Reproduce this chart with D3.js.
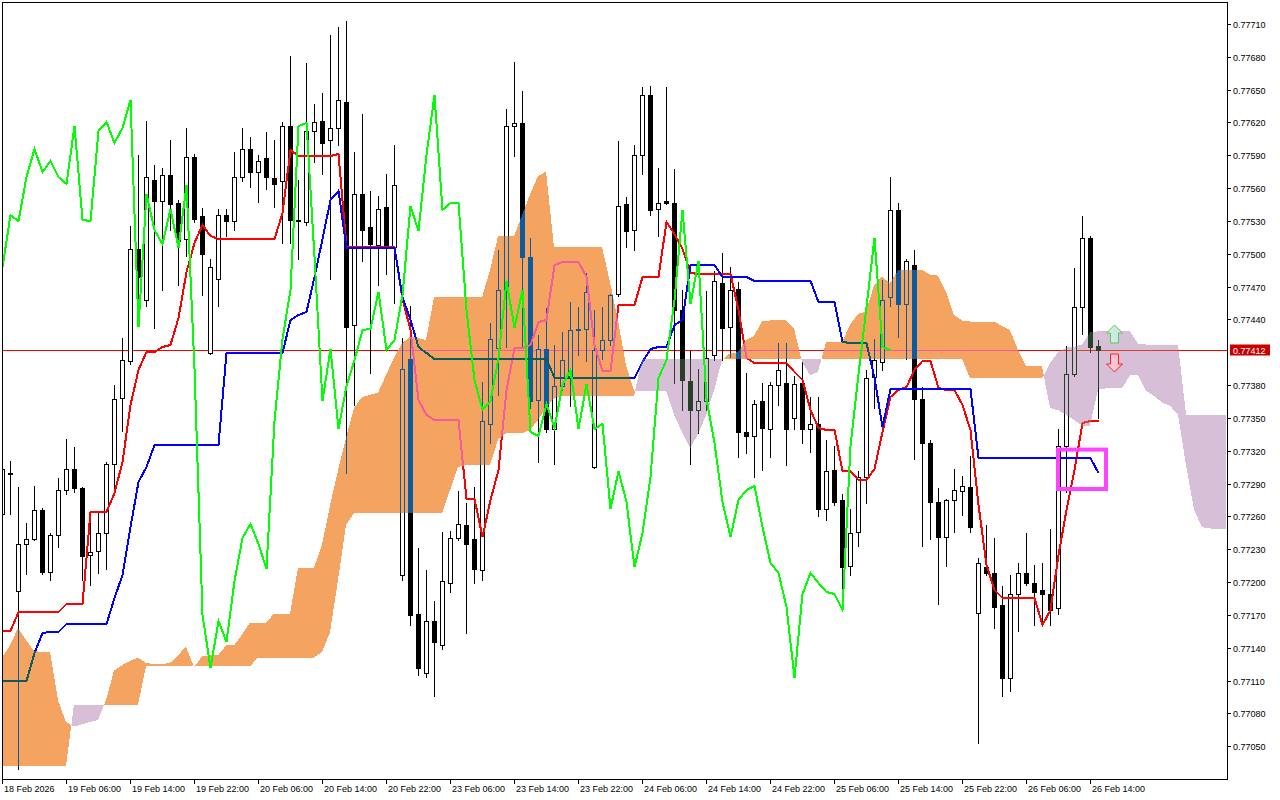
<!DOCTYPE html>
<html><head><meta charset="utf-8">
<script src="https://cdn.jsdelivr.net/npm/d3@7"></script>
<style>
html,body{margin:0;padding:0;background:#fff;}
svg{display:block;}
text{font-family:"Liberation Sans",Arial,sans-serif;font-size:9px;}
</style></head><body>
<svg id="chart" width="1280" height="800"></svg>
<script>
// ---- DATA (H1 candles, Ichimoku 9/26/52) ----
const opens = [
0.77262,0.77300,0.77192,0.77235,0.77239,0.77266,0.77209,0.77243,0.77284,0.77303,
0.77286,0.77225,0.77228,0.77245,0.77308,0.77368,0.77402,0.77504,0.77458,0.77567,
0.77548,0.77572,0.77546,0.77513,0.77588,0.77534,0.77409,0.77477,0.77535,0.77530,
0.77570,0.77596,0.77575,0.77587,0.77569,0.77566,0.77617,0.77531,0.77529,0.77612,
0.77621,0.77604,0.77615,0.77639,0.77435,0.77555,0.77524,0.77508,0.77543,0.77506,
0.77206,0.77404,0.77171,0.77117,0.77164,0.77142,0.77199,0.77240,0.77252,0.77239,
0.77211,0.77344,0.77414,0.77467,0.77617,0.77619,0.77497,0.77366,0.77413,0.77340,
0.77379,0.77388,0.77430,0.77431,0.77305,0.77412,0.77421,0.77463,0.77545,0.77522,
0.77590,0.77645,0.77541,0.77548,0.77546,0.77449,0.77384,0.77357,0.77365,0.77407,
0.77473,0.77433,0.77468,0.77337,0.77333,0.77365,0.77340,0.77380,0.77382,0.77350,
0.77382,0.77340,0.77344,0.77267,0.77302,0.77275,0.77215,0.77246,0.77296,0.77387,
0.77401,0.77460,0.77540,0.77454,0.77490,0.77367,0.77327,0.77273,0.77241,0.77275,
0.77283,0.77287,0.77172,0.77214,0.77208,0.77179,0.77112,0.77189,0.77208,0.77199,
0.77193,0.77189,0.77176,0.77324,0.77390,0.77451,0.77514,0.77416];
const highs = [
0.77310,0.77311,0.77287,0.77254,0.77288,0.77268,0.77245,0.77295,0.77331,0.77323,
0.77287,0.77254,0.77263,0.77310,0.77380,0.77423,0.77525,0.77590,0.77621,0.77581,
0.77578,0.77604,0.77549,0.77615,0.77591,0.77542,0.77495,0.77541,0.77541,0.77593,
0.77615,0.77607,0.77590,0.77611,0.77604,0.77620,0.77681,0.77567,0.77674,0.77637,
0.77647,0.77700,0.77707,0.77713,0.77593,0.77628,0.77557,0.77553,0.77573,0.77599,
0.77423,0.77452,0.77231,0.77211,0.77183,0.77246,0.77247,0.77283,0.77272,0.77287,
0.77383,0.77437,0.77503,0.77632,0.77675,0.77649,0.77514,0.77426,0.77450,0.77417,
0.77428,0.77456,0.77451,0.77482,0.77449,0.77451,0.77463,0.77603,0.77552,0.77599,
0.77652,0.77653,0.77578,0.77652,0.77577,0.77467,0.77411,0.77395,0.77466,0.77484,
0.77501,0.77488,0.77474,0.77391,0.77366,0.77382,0.77383,0.77418,0.77418,0.77388,
0.77401,0.77369,0.77369,0.77330,0.77324,0.77280,0.77267,0.77301,0.77394,0.77422,
0.77476,0.77570,0.77546,0.77495,0.77503,0.77378,0.77330,0.77286,0.77276,0.77303,
0.77297,0.77315,0.77222,0.77252,0.77240,0.77196,0.77206,0.77217,0.77245,0.77216,
0.77217,0.77248,0.77340,0.77416,0.77487,0.77534,0.77516,0.77421];
const lows = [
0.77258,0.77262,0.77029,0.77207,0.77238,0.77207,0.77202,0.77232,0.77280,0.77282,
0.77202,0.77197,0.77208,0.77212,0.77281,0.77338,0.77399,0.77456,0.77452,0.77432,
0.77467,0.77522,0.77471,0.77498,0.77529,0.77462,0.77408,0.77452,0.77516,0.77522,
0.77566,0.77561,0.77547,0.77559,0.77543,0.77510,0.77510,0.77495,0.77526,0.77584,
0.77573,0.77477,0.77599,0.77300,0.77362,0.77493,0.77391,0.77471,0.77481,0.77455,
0.77202,0.77161,0.77115,0.77113,0.77096,0.77139,0.77191,0.77238,0.77153,0.77199,
0.77202,0.77327,0.77371,0.77415,0.77589,0.77415,0.77359,0.77310,0.77337,0.77308,
0.77375,0.77361,0.77407,0.77402,0.77304,0.77404,0.77417,0.77461,0.77506,0.77503,
0.77573,0.77535,0.77516,0.77545,0.77382,0.77357,0.77308,0.77336,0.77357,0.77403,
0.77403,0.77406,0.77314,0.77318,0.77296,0.77302,0.77314,0.77362,0.77307,0.77340,
0.77327,0.77319,0.77260,0.77257,0.77270,0.77193,0.77206,0.77233,0.77272,0.77359,
0.77394,0.77452,0.77424,0.77404,0.77312,0.77233,0.77239,0.77180,0.77215,0.77246,
0.77261,0.77246,0.77053,0.77206,0.77158,0.77096,0.77100,0.77155,0.77197,0.77161,
0.77161,0.77161,0.77171,0.77282,0.77388,0.77427,0.77410,0.77350];
const closes = [
0.77303,0.77299,0.77235,0.77239,0.77266,0.77209,0.77243,0.77284,0.77303,0.77286,
0.77224,0.77227,0.77245,0.77308,0.77367,0.77403,0.77504,0.77479,0.77570,0.77548,
0.77572,0.77545,0.77512,0.77588,0.77532,0.77500,0.77488,0.77535,0.77530,0.77570,
0.77596,0.77575,0.77585,0.77570,0.77564,0.77617,0.77531,0.77530,0.77612,0.77620,
0.77601,0.77615,0.77640,0.77433,0.77555,0.77522,0.77509,0.77541,0.77505,0.77563,
0.77395,0.77170,0.77121,0.77164,0.77145,0.77201,0.77240,0.77253,0.77235,0.77212,
0.77347,0.77422,0.77467,0.77617,0.77619,0.77497,0.77365,0.77413,0.77340,0.77379,
0.77403,0.77430,0.77431,0.77465,0.77412,0.77421,0.77462,0.77544,0.77521,0.77590,
0.77645,0.77540,0.77546,0.77546,0.77449,0.77385,0.77357,0.77365,0.77405,0.77475,
0.77432,0.77467,0.77337,0.77333,0.77363,0.77341,0.77380,0.77394,0.77340,0.77381,
0.77340,0.77344,0.77267,0.77301,0.77273,0.77214,0.77245,0.77296,0.77386,0.77403,
0.77458,0.77540,0.77454,0.77493,0.77367,0.77327,0.77273,0.77241,0.77275,0.77284,
0.77288,0.77250,0.77217,0.77208,0.77177,0.77112,0.77189,0.77208,0.77199,0.77191,
0.77189,0.77174,0.77324,0.77390,0.77451,0.77514,0.77415,0.77412];
const tenkan = [
0.77155,0.77155,0.77173,0.77173,0.77173,0.77173,0.77173,0.77173,0.77180,0.77180,
0.77180,0.77264,0.77264,0.77264,0.77281,0.77310,0.77362,0.77394,0.77410,0.77410,
0.77415,0.77417,0.77441,0.77483,0.77510,0.77526,0.77516,0.77513,0.77513,0.77513,
0.77513,0.77513,0.77513,0.77513,0.77513,0.77537,0.77595,0.77589,0.77589,0.77589,
0.77589,0.77589,0.77591,0.77506,0.77506,0.77506,0.77506,0.77506,0.77506,0.77506,
0.77459,0.77430,0.77366,0.77353,0.77348,0.77348,0.77348,0.77348,0.77276,0.77276,
0.77241,0.77275,0.77302,0.77375,0.77414,0.77414,0.77417,0.77438,0.77439,0.77490,
0.77492,0.77492,0.77492,0.77479,0.77417,0.77393,0.77393,0.77453,0.77453,0.77453,
0.77479,0.77479,0.77479,0.77529,0.77518,0.77504,0.77482,0.77481,0.77481,0.77481,
0.77481,0.77481,0.77449,0.77405,0.77400,0.77400,0.77400,0.77400,0.77400,0.77392,
0.77385,0.77357,0.77341,0.77339,0.77339,0.77301,0.77301,0.77293,0.77293,0.77303,
0.77337,0.77369,0.77375,0.77378,0.77394,0.77402,0.77402,0.77377,0.77375,0.77375,
0.77362,0.77339,0.77270,0.77216,0.77193,0.77185,0.77185,0.77185,0.77185,0.77185,
0.77161,0.77174,0.77225,0.77266,0.77302,0.77345,0.77347,0.77347];
const kijun = [
0.77110,0.77110,0.77110,0.77110,0.77135,0.77153,0.77154,0.77154,0.77162,0.77162,
0.77162,0.77162,0.77162,0.77162,0.77185,0.77206,0.77250,0.77291,0.77305,0.77325,
0.77325,0.77325,0.77325,0.77325,0.77325,0.77325,0.77325,0.77325,0.77409,0.77409,
0.77409,0.77409,0.77409,0.77409,0.77409,0.77409,0.77439,0.77444,0.77447,0.77479,
0.77513,0.77549,0.77557,0.77505,0.77505,0.77505,0.77505,0.77505,0.77505,0.77505,
0.77460,0.77439,0.77415,0.77409,0.77404,0.77404,0.77404,0.77404,0.77404,0.77404,
0.77404,0.77404,0.77404,0.77404,0.77404,0.77404,0.77404,0.77404,0.77404,0.77386,
0.77386,0.77386,0.77386,0.77386,0.77386,0.77386,0.77386,0.77386,0.77386,0.77386,
0.77401,0.77413,0.77415,0.77415,0.77435,0.77439,0.77490,0.77490,0.77490,0.77490,
0.77479,0.77479,0.77479,0.77479,0.77475,0.77475,0.77475,0.77475,0.77475,0.77475,
0.77475,0.77475,0.77456,0.77456,0.77456,0.77419,0.77418,0.77418,0.77418,0.77386,
0.77342,0.77376,0.77376,0.77376,0.77376,0.77376,0.77376,0.77376,0.77376,0.77376,
0.77376,0.77376,0.77313,0.77313,0.77313,0.77313,0.77313,0.77313,0.77313,0.77313,
0.77313,0.77313,0.77313,0.77313,0.77313,0.77313,0.77313,0.77300];
const spanA = [
0.77131,0.77142,0.77158,0.77147,0.77137,0.77136,0.77136,0.77092,0.77072,0.77068,
0.77070,0.77072,0.77074,0.77092,0.77119,0.77124,0.77128,0.77131,0.77126,0.77125,
0.77125,0.77126,0.77133,0.77141,0.77122,0.77132,0.77133,0.77133,0.77142,0.77142,
0.77152,0.77163,0.77163,0.77163,0.77171,0.77171,0.77171,0.77213,0.77213,0.77213,
0.77234,0.77270,0.77302,0.77332,0.77359,0.77369,0.77371,0.77373,0.77389,0.77405,
0.77418,0.77424,0.77423,0.77421,0.77460,0.77460,0.77460,0.77460,0.77460,0.77460,
0.77460,0.77485,0.77516,0.77516,0.77516,0.77535,0.77554,0.77571,0.77575,0.77506,
0.77506,0.77506,0.77506,0.77506,0.77506,0.77506,0.77474,0.77439,0.77398,0.77375,
0.77375,0.77375,0.77375,0.77375,0.77353,0.77337,0.77322,0.77335,0.77352,0.77375,
0.77403,0.77409,0.77410,0.77421,0.77425,0.77438,0.77439,0.77439,0.77439,0.77432,
0.77401,0.77389,0.77392,0.77419,0.77419,0.77419,0.77435,0.77445,0.77447,0.77471,
0.77479,0.77473,0.77485,0.77485,0.77485,0.77485,0.77481,0.77480,0.77465,0.77444,
0.77439,0.77438,0.77438,0.77438,0.77438,0.77434,0.77430,0.77412,0.77397,0.77397,
0.77397,0.77359,0.77357,0.77353,0.77348,0.77343,0.77343,0.77376,0.77377,0.77377,
0.77377,0.77389,0.77389,0.77375,0.77370,0.77364,0.77361,0.77353,0.77307,0.77266,
0.77250,0.77249,0.77248,0.77248];
const spanB = [
0.77032,0.77032,0.77032,0.77032,0.77032,0.77032,0.77032,0.77032,0.77032,0.77088,
0.77088,0.77088,0.77088,0.77088,0.77088,0.77088,0.77088,0.77088,0.77123,0.77123,
0.77123,0.77123,0.77123,0.77123,0.77123,0.77123,0.77123,0.77123,0.77123,0.77123,
0.77123,0.77123,0.77131,0.77131,0.77131,0.77131,0.77131,0.77131,0.77131,0.77131,
0.77136,0.77154,0.77202,0.77252,0.77263,0.77263,0.77263,0.77263,0.77263,0.77263,
0.77263,0.77263,0.77263,0.77263,0.77263,0.77263,0.77284,0.77305,0.77307,0.77307,
0.77307,0.77307,0.77330,0.77336,0.77336,0.77336,0.77339,0.77348,0.77359,0.77368,
0.77370,0.77370,0.77370,0.77370,0.77370,0.77370,0.77370,0.77370,0.77370,0.77370,
0.77404,0.77404,0.77404,0.77404,0.77404,0.77404,0.77404,0.77404,0.77404,0.77404,
0.77404,0.77404,0.77404,0.77404,0.77404,0.77404,0.77404,0.77404,0.77404,0.77404,
0.77404,0.77404,0.77404,0.77404,0.77404,0.77404,0.77404,0.77404,0.77404,0.77404,
0.77404,0.77404,0.77404,0.77404,0.77404,0.77404,0.77404,0.77404,0.77404,0.77404,
0.77404,0.77386,0.77386,0.77386,0.77386,0.77386,0.77386,0.77386,0.77386,0.77386,
0.77386,0.77400,0.77410,0.77414,0.77415,0.77417,0.77428,0.77429,0.77429,0.77429,
0.77429,0.77429,0.77418,0.77417,0.77417,0.77417,0.77417,0.77417,0.77353,0.77353,
0.77353,0.77353,0.77353,0.77353];
const chikouShift = 26;
const lastPrice = 0.77412;
const priceTicks = [0.77050,0.77080,0.77110,0.77140,0.77170,0.77200,0.77230,0.77260,0.77290,0.77320,
  0.77350,0.77380,0.77440,0.77470,0.77500,0.77530,0.77560,0.77590,0.77620,0.77650,0.77680,0.77710];
const timeTickIndex = [0,8,16,24,32,40,48,56,64,72,80,88,96,104,112,120,128,136];
const timeLabels = ["18 Feb 2026","19 Feb 06:00","19 Feb 14:00","19 Feb 22:00","20 Feb 06:00","20 Feb 14:00",
  "20 Feb 22:00","23 Feb 06:00","23 Feb 14:00","23 Feb 22:00","24 Feb 06:00","24 Feb 14:00",
  "24 Feb 22:00","25 Feb 06:00","25 Feb 14:00","25 Feb 22:00","26 Feb 06:00","26 Feb 14:00"];
const selectionBox = {from: 132, to: 138, top: 0.77321, bottom: 0.77285};
const signalBar = 139;

// ---- SCALES ----
const L = 2, R = 1227, T = 2, B = 779;
const x = d3.scaleLinear().domain([0, 153]).range([2, 1226]);
const y = d3.scaleLinear().domain([0.77020, 0.77730]).range([779, 2]);

const svg = d3.select('#chart');
svg.append('rect').attr('width',1280).attr('height',800).attr('fill','#fff');
const defs = svg.append('defs');
defs.append('clipPath').attr('id','plotClip').append('rect')
  .attr('x', L+1).attr('y', T+1).attr('width', R-L-1).attr('height', B-T-1);
const gu = defs.append('linearGradient').attr('id','gUp').attr('x1',0).attr('x2',1).attr('y1',0).attr('y2',0);
gu.append('stop').attr('offset','0').attr('stop-color','#d8f4d8');
gu.append('stop').attr('offset','1').attr('stop-color','#c8dcf0');
const gd = defs.append('linearGradient').attr('id','gDn').attr('x1',0).attr('x2',1).attr('y1',0).attr('y2',0);
gd.append('stop').attr('offset','0').attr('stop-color','#ffd8e4');
gd.append('stop').attr('offset','1').attr('stop-color','#f4b0c4');

const plot = svg.append('g').attr('clip-path','url(#plotClip)');
// white backdrop inside the (isolated) clipped group so the blend works
plot.append('rect').attr('x',0).attr('y',0).attr('width',1280).attr('height',800).attr('fill','#fff');

// bid line
const py = Math.round(y(lastPrice)) + 0.5;
plot.append('line').attr('x1',L).attr('x2',R).attr('y1',py).attr('y2',py)
  .attr('stroke','#ff0000').attr('stroke-width',1).attr('shape-rendering','crispEdges');

// candles
const candles = d3.range(opens.length).map(i => ({i, o:opens[i], h:highs[i], l:lows[i], c:closes[i]}));
plot.append('g').selectAll('line').data(candles).join('line')
  .attr('x1', d => x(d.i)+0.5).attr('x2', d => x(d.i)+0.5)
  .attr('y1', d => Math.round(y(d.h))).attr('y2', d => Math.round(y(d.l))+1)
  .attr('stroke','#000').attr('stroke-width',1).attr('shape-rendering','crispEdges');
plot.append('g').selectAll('rect').data(candles).join('rect')
  .attr('x', d => x(d.i)-1.5).attr('width', 4)
  .attr('y', d => Math.round(y(Math.max(d.o,d.c)))+0.5)
  .attr('height', d => Math.max(1, Math.round(y(Math.min(d.o,d.c))) - Math.round(y(Math.max(d.o,d.c)))))
  .attr('fill', d => d.c >= d.o ? '#fff' : '#000')
  .attr('stroke','#000').attr('stroke-width',1).attr('shape-rendering','crispEdges');

// tenkan & kijun (aliased, like the terminal draws them)
const lineGen = arr => d3.line().x((d,i) => x(i) + 0.5).y(d => Math.round(y(d)))(arr);
plot.append('path').attr('d', lineGen(tenkan)).attr('fill','none').attr('stroke','#ff0000')
  .attr('stroke-width',2).attr('shape-rendering','crispEdges');
plot.append('path').attr('d', lineGen(kijun)).attr('fill','none').attr('stroke','#0000ff')
  .attr('stroke-width',2).attr('shape-rendering','crispEdges');

// cloud with crossing points
const pts = [];
for (let i = 0; i < spanA.length; i++) {
  pts.push({t:i, a:spanA[i], b:spanB[i]});
  if (i < spanA.length-1) {
    const d0 = spanA[i]-spanB[i], d1 = spanA[i+1]-spanB[i+1];
    if (d0*d1 < 0) {
      const f = d0/(d0-d1);
      const v = spanA[i] + f*(spanA[i+1]-spanA[i]);
      pts.push({t:i+f, a:v, b:v});
    }
  }
}
const upArea = d3.area().x(d => x(d.t)).y0(d => y(d.b)).y1(d => y(Math.max(d.a,d.b)));
const dnArea = d3.area().x(d => x(d.t)).y0(d => y(d.a)).y1(d => y(Math.max(d.a,d.b)));
// inverse colours + difference blend reproduce the XOR-like fill (sandybrown / thistle on white)
plot.append('path').attr('d', upArea(pts)).attr('fill','rgb(11,91,159)')
  .attr('shape-rendering','crispEdges').style('mix-blend-mode','difference');
plot.append('path').attr('d', dnArea(pts)).attr('fill','rgb(39,64,39)')
  .attr('shape-rendering','crispEdges').style('mix-blend-mode','difference');

// chikou
const chikou = closes.slice(chikouShift);
plot.append('path').attr('d', lineGen(chikou)).attr('fill','none').attr('stroke','#00ff00')
  .attr('stroke-width',2).attr('shape-rendering','crispEdges');

// frame
svg.append('rect').attr('x',L+0.5).attr('y',T+0.5).attr('width',R-L).attr('height',B-T)
  .attr('fill','none').attr('stroke','#000').attr('stroke-width',1).attr('shape-rendering','crispEdges');

// right axis
const ya = svg.append('g');
priceTicks.forEach(v => {
  const yy = Math.round(y(v)) + 0.5;
  ya.append('line').attr('x1',R).attr('x2',R+4).attr('y1',yy).attr('y2',yy).attr('stroke','#000').attr('shape-rendering','crispEdges');
  ya.append('text').attr('x',R+6).attr('y',yy+3.5).attr('fill','#000').text(v.toFixed(5));
});
// last price label
svg.append('rect').attr('x',R+3).attr('y',py-6).attr('width',40).attr('height',11).attr('fill','#c80000');
svg.append('text').attr('x',R+6).attr('y',py+3.5).attr('fill','#fff').text(lastPrice.toFixed(5));

// bottom axis
const xa = svg.append('g');
timeTickIndex.forEach((idx, k) => {
  const xx = x(idx) + 0.5;
  xa.append('line').attr('x1',xx).attr('x2',xx).attr('y1',B).attr('y2',B+5).attr('stroke','#000').attr('shape-rendering','crispEdges');
  xa.append('text').attr('x',xx+1.5).attr('y',792).attr('fill','#000').text(timeLabels[k]);
});

// selection box
svg.append('rect')
  .attr('x', x(selectionBox.from)).attr('y', y(selectionBox.top))
  .attr('width', x(selectionBox.to)-x(selectionBox.from)).attr('height', y(selectionBox.bottom)-y(selectionBox.top))
  .attr('fill','none').attr('stroke','#ff44ff').attr('stroke-width',4);

// signal arrows
const ax = x(signalBar) + 0.5;
const upBase = Math.round(y(0.77418));
svg.append('path')
  .attr('d', `M${ax},${upBase-18} L${ax+8},${upBase-10} L${ax+4},${upBase-10} L${ax+4},${upBase} L${ax-4},${upBase} L${ax-4},${upBase-10} L${ax-8},${upBase-10} Z`)
  .attr('fill','url(#gUp)').attr('stroke','#50d050').attr('stroke-width',1);
const dnTop = Math.round(y(0.77408));
svg.append('path')
  .attr('d', `M${ax-4},${dnTop} L${ax+4},${dnTop} L${ax+4},${dnTop+10} L${ax+8},${dnTop+10} L${ax},${dnTop+18} L${ax-8},${dnTop+10} L${ax-4},${dnTop+10} Z`)
  .attr('fill','url(#gDn)').attr('stroke','#ff2020').attr('stroke-width',1);
</script>
</body></html>
